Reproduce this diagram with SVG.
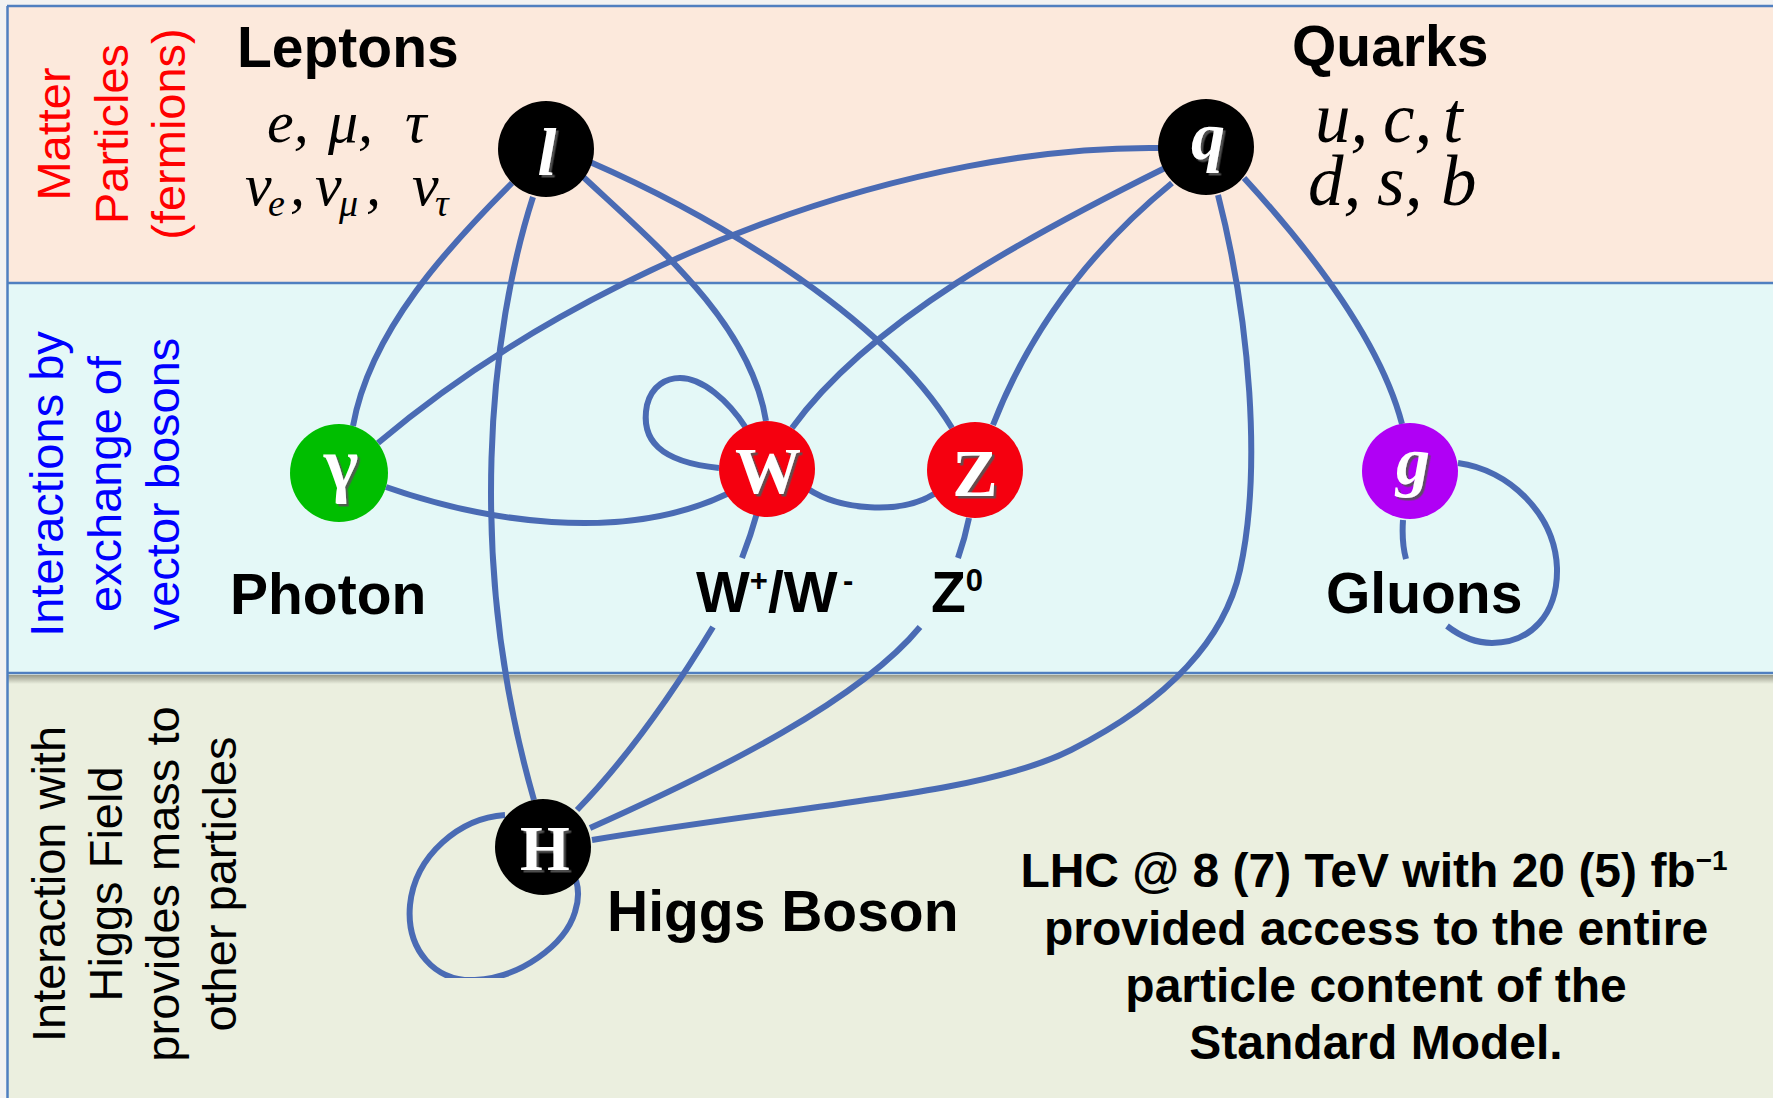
<svg xmlns="http://www.w3.org/2000/svg" width="1773" height="1098" viewBox="0 0 1773 1098">
<style>
.band-line{stroke:#4f7fc0;stroke-width:2.5;fill:none}
.conn{fill:none;stroke:#4a6bb4;stroke-width:6;stroke-linecap:butt}
.side{font-family:"Liberation Sans",Arial,sans-serif;font-size:47px;text-anchor:middle}
.head{font-family:"Liberation Sans",Arial,sans-serif;font-size:57px;font-weight:bold;fill:#000}
.ital{font-family:"Liberation Serif","Times New Roman",serif;font-style:italic;fill:#000}
.sym{font-family:"Liberation Serif","Times New Roman",serif;font-weight:bold;fill:#fff;text-anchor:middle;filter:url(#sh)}
.note{font-family:"Liberation Sans",Arial,sans-serif;font-size:48px;font-weight:bold;text-anchor:middle;fill:#000}
</style>
<defs>
<filter id="sh" x="-20%" y="-20%" width="150%" height="150%">
<feDropShadow dx="2.5" dy="2.5" stdDeviation="0.6" flood-color="#555" flood-opacity="0.9"/>
</filter>
<linearGradient id="shadow" x1="0" y1="0" x2="0" y2="1">
<stop offset="0" stop-color="#505040" stop-opacity="0.55"/>
<stop offset="1" stop-color="#505040" stop-opacity="0"/>
</linearGradient>
<clipPath id="hclip"><rect x="0" y="0" width="1773" height="978"/></clipPath>
</defs>

<g id="background">
<rect x="0" y="0" width="1773" height="1098" fill="#f2f2f2"/>
<rect x="8" y="6" width="1765" height="277" fill="#fce9dc"/>
<rect x="8" y="283" width="1765" height="390" fill="#e4f8f7"/>
<rect x="8" y="673" width="1765" height="425" fill="#ebefdf"/>
<rect x="8" y="675" width="1765" height="9" fill="url(#shadow)"/>
<line class="band-line" x1="7" y1="6" x2="1773" y2="6"/>
<line class="band-line" x1="7" y1="283" x2="1773" y2="283"/>
<line class="band-line" x1="7" y1="673" x2="1773" y2="673"/>
<line class="band-line" x1="7.5" y1="6" x2="7.5" y2="1098"/>
</g>

<g id="band-labels">
<g fill="#ff0000">
<text class="side" transform="translate(70,134) rotate(-90)">Matter</text>
<text class="side" transform="translate(128,134) rotate(-90)">Particles</text>
<text class="side" transform="translate(185,134) rotate(-90)">(fermions)</text>
</g>
<g fill="#0000ff">
<text class="side" transform="translate(63,484) rotate(-90)">Interactions by</text>
<text class="side" transform="translate(121,484) rotate(-90)">exchange of</text>
<text class="side" transform="translate(179,484) rotate(-90)">vector bosons</text>
</g>
<g fill="#000">
<text class="side" transform="translate(65,884) rotate(-90)">Interaction with</text>
<text class="side" transform="translate(122,884) rotate(-90)">Higgs Field</text>
<text class="side" transform="translate(179,884) rotate(-90)">provides mass to</text>
<text class="side" transform="translate(236,884) rotate(-90)">other particles</text>
</g>
</g>

<g id="connectors">
<path id="c-l-gamma" class="conn" d="M 512,183 C 450,245 370,330 353,426"/>
<path id="c-l-H" class="conn" d="M 533,197 C 490,330 465,560 534,800"/>
<path id="c-l-W" class="conn" d="M 578,172 C 650,240 750,320 766,421"/>
<path id="c-l-Z" class="conn" d="M 590,162 C 700,210 880,310 952,428"/>
<path id="c-q-gamma" class="conn" d="M 1159,148 C 920,145 600,255 378,443"/>
<path id="c-q-W" class="conn" d="M 1165,168 C 1030,235 870,320 792,428"/>
<path id="c-q-Z" class="conn" d="M 1172,183 C 1090,250 1030,330 993,425"/>
<path id="c-q-g" class="conn" d="M 1244,178 C 1310,250 1380,340 1402,424"/>
<path id="c-q-H" class="conn" d="M 1218,195 C 1250,320 1262,470 1240,570 C 1225,638 1170,700 1071,750 C 982,795 800,805 592,840"/>
<path id="c-gamma-W" class="conn" d="M 386,487 C 480,520 620,545 727,494"/>
<path id="c-W-loop" class="conn" d="M 719,468 C 660,462 640,440 647,405 C 652,385 667,378 680,378 C 702,378 728,400 746,428"/>
<path id="c-W-Z" class="conn" d="M 808,489 C 840,510 900,515 934,494"/>
<path id="c-W-H" class="conn" d="M 757,513 Q 751,535 742,558 M 713,627 C 690,665 640,745 577,810"/>
<path id="c-Z-H" class="conn" d="M 969,518 Q 965,538 958,558 M 920,627 C 860,700 720,770 590,828"/>
<path id="c-g-loop" class="conn" d="M 1458,463 C 1510,470 1555,515 1557,568 C 1558,615 1530,643 1492,643 C 1475,643 1460,636 1447,626 M 1403,520 C 1402,535 1403,548 1406,559"/>
<path id="c-H-loop" class="conn" clip-path="url(#hclip)" d="M 505,815 C 460,818 415,855 410,905 C 406,950 435,982 475,980 C 520,978 565,945 575,912 C 579,900 579,890 576,880"/>
</g>

<g id="node-l">
<circle cx="546" cy="149" r="48" fill="#000"/>
<text class="sym" x="547" y="175" font-size="68" font-style="italic">l</text>
</g>
<g id="node-q">
<circle cx="1206" cy="147" r="48" fill="#000"/>
<text class="sym" x="1208" y="159" font-size="68" font-style="italic">q</text>
</g>
<g id="node-gamma">
<circle cx="339" cy="473" r="49" fill="#00be00"/>
<text class="sym" x="341" y="488" font-size="74" font-family="'Liberation Sans',Arial,sans-serif" font-weight="normal">γ</text>
</g>
<g id="node-W">
<circle cx="767" cy="469" r="48" fill="#f5000f"/>
<text class="sym" x="768" y="493" font-size="66">W</text>
</g>
<g id="node-Z">
<circle cx="975" cy="470" r="48" fill="#f5000f"/>
<text class="sym" x="975" y="496" font-size="68">Z</text>
</g>
<g id="node-g">
<circle cx="1410" cy="471" r="48" fill="#b000f5"/>
<text class="sym" x="1413" y="484" font-size="68" font-style="italic">g</text>
</g>
<g id="node-H">
<circle cx="543" cy="847" r="48" fill="#000"/>
<text class="sym" x="545" y="870" font-size="64">H</text>
</g>

<g id="labels">
<text class="head" x="237" y="67">Leptons</text>
<text class="head" x="1292" y="66">Quarks</text>
<text class="ital" font-size="60" y="142"><tspan x="267">e,</tspan><tspan x="328">μ,</tspan><tspan x="405">τ</tspan></text>
<text class="ital" font-size="60" y="205"><tspan x="245">ν</tspan><tspan x="268" dy="11" font-size="38">e</tspan><tspan x="290" dy="-11">,</tspan><tspan x="315">ν</tspan><tspan x="339" dy="11" font-size="38">μ</tspan><tspan x="366" dy="-11">,</tspan><tspan x="412">ν</tspan><tspan x="435" dy="11" font-size="38">τ</tspan></text>
<text class="ital" font-size="71" y="142"><tspan x="1315">u,</tspan><tspan x="1383">c,</tspan><tspan x="1443">t</tspan></text>
<text class="ital" font-size="71" y="205"><tspan x="1308">d,</tspan><tspan x="1377">s,</tspan><tspan x="1441">b</tspan></text>
<text class="head" x="230" y="614">Photon</text>
<text class="head" x="696" y="612">W<tspan dy="-21" font-size="31">+</tspan><tspan dy="21">/W</tspan><tspan x="843" dy="-21" font-size="31">-</tspan></text>
<text class="head" x="931" y="612">Z<tspan dy="-21" font-size="31">0</tspan></text>
<text class="head" x="1326" y="613">Gluons</text>
<text class="head" x="607" y="931">Higgs Boson</text>
<text class="note" x="1374" y="887">LHC @ 8 (7) TeV with 20 (5) fb<tspan dy="-17" font-size="28">−1</tspan></text>
<text class="note" x="1376" y="945">provided access to the entire</text>
<text class="note" x="1376" y="1002">particle content of the</text>
<text class="note" x="1376" y="1059">Standard Model.</text>
</g>
</svg>
